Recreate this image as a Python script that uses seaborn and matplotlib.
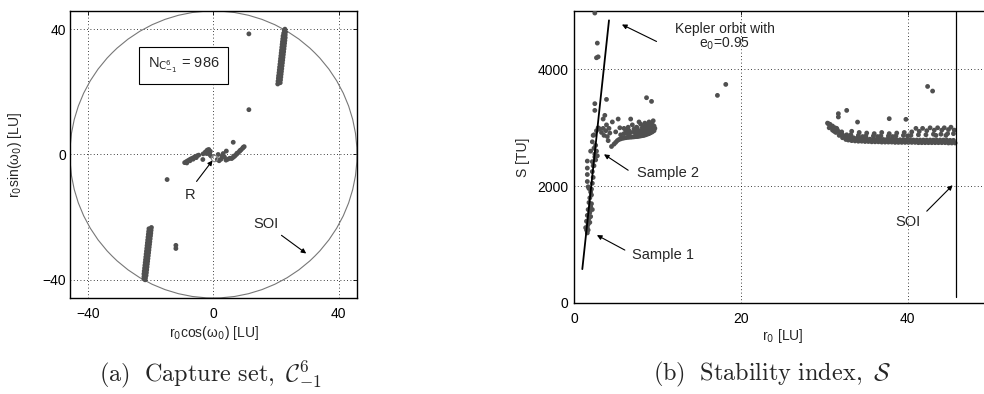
import seaborn as sns
import numpy as np
import pandas as pd
import matplotlib
matplotlib.use('Agg')
import matplotlib.pyplot as plt

# ---------------- data: capture set (left panel) ----------------
soi_radius = 45.8

# upper-right elongated cluster
capA_x = [20.5, 21.3, 20.6, 21.4, 20.7, 21.5, 20.8, 21.6, 20.9, 21.7, 21.0, 21.8, 21.1, 21.9,
          21.2, 22.0, 21.3, 22.1, 21.4, 22.2, 21.5, 22.3, 21.6, 22.4, 21.7, 22.5, 21.8, 22.6,
          21.9, 22.7, 22.0, 22.8, 22.1, 22.9, 22.2, 22.9, 22.4, 23.0, 22.6, 22.8,
          20.9, 21.3, 21.6, 21.9, 22.2, 22.5]
capA_y = [22.5, 22.9, 23.4, 23.8, 24.3, 24.7, 25.2, 25.6, 26.1, 26.5, 27.0, 27.4, 27.9, 28.3,
          28.8, 29.2, 29.7, 30.1, 30.6, 31.0, 31.5, 31.9, 32.4, 32.8, 33.3, 33.7, 34.2, 34.6,
          35.1, 35.5, 36.0, 36.4, 36.9, 37.3, 37.8, 38.2, 38.7, 39.1, 39.6, 40.0,
          25.0, 27.8, 30.4, 33.0, 35.6, 38.0]
# lower-left elongated cluster
capB_x = [-19.8, -20.6, -19.9, -20.7, -20.0, -20.8, -20.1, -20.9, -20.2, -21.0, -20.3, -21.1,
          -20.4, -21.2, -20.5, -21.3, -20.6, -21.4, -20.7, -21.5, -20.8, -21.6, -20.9, -21.7,
          -21.0, -21.8, -21.1, -21.9, -21.2, -22.0, -21.3, -22.1, -21.4, -22.2, -21.5, -22.2,
          -21.7, -22.2, -21.8, -22.0,
          -20.2, -20.6, -20.9, -21.2, -21.5, -21.8]
capB_y = [-23.3, -23.7, -24.2, -24.6, -25.1, -25.5, -26.0, -26.4, -26.9, -27.3, -27.8, -28.2,
          -28.7, -29.1, -29.6, -30.0, -30.5, -30.9, -31.4, -31.8, -32.3, -32.7, -33.2, -33.6,
          -34.1, -34.5, -35.0, -35.4, -35.9, -36.3, -36.8, -37.2, -37.7, -38.1, -38.6, -39.0,
          -39.4, -39.7, -40.0, -39.2,
          -25.5, -28.4, -31.0, -33.6, -36.2, -38.4]
# central cluster and isolated points
capC_x = [-9.2, -8.7, -8.2, -7.7, -7.2, -6.7, -6.2, -5.7, -5.2, -4.7, -8.5, -7.5, -6.5, -5.5,
          -3.3, -2.6, -2.0, -1.5, -1.0, -1.3, -0.8, -2.2, -3.4,
          1.2, 1.8, 2.4, 2.8, 3.1, 3.5, 4.0, 4.6, 5.2, -1.2, 1.5, 4.1,
          5.8, 6.3, 6.8, 7.3, 7.8, 8.3, 8.8, 9.3, 9.8, 6.5, 7.5, 8.5, 9.5,
          6.3, 11.3, 11.3, -14.8, -12.0, -12.0]
capC_y = [-2.6, -2.3, -2.0, -1.7, -1.4, -1.2, -0.9, -0.7, -0.4, -0.2, -2.7, -2.0, -1.5, -1.0,
          0.2, 0.8, 1.4, 1.6, 1.0, 0.3, -0.5, 0.3, -1.6,
          -1.6, -2.0, -1.5, -0.5, 0.3, -0.8, -1.8, -1.5, -1.2, 0.0, 0.0, 1.1,
          -1.3, -0.9, -0.5, 0.0, 0.5, 1.0, 1.5, 2.0, 2.5, -0.5, 0.4, 1.3, 2.3,
          3.9, 38.5, 14.3, -8.0, -29.0, -30.0]
R_point = (0.2, -1.2)

# ---------------- data: stability index (right panel) ----------------
kepler_r = [1.0, 4.2]
kepler_S = [580, 4840]

stabA_r = [2.5, 2.8, 2.7, 2.9, 2.5, 3.9, 2.5, 3.7, 8.7, 9.3, 17.2, 18.2,
           1.6, 1.6, 1.6, 1.6, 1.7, 1.8,
           2.3, 2.2, 2.4, 2.6, 2.5, 2.7, 2.4, 2.6, 2.2, 2.4, 2.7, 2.9, 3.1, 2.3, 2.5, 2.8, 2.2,
           1.5, 1.6, 1.7, 1.5, 1.8, 1.6, 1.9, 1.7, 2.0, 2.1, 1.8, 1.4, 1.9, 2.0, 2.2, 1.6, 1.7,
           1.9, 2.0, 2.1, 2.2, 2.1, 2.3, 2.0]
stabA_S = [4965, 4450, 4199, 4215, 3413, 3486, 3298, 3213, 3515, 3452, 3555, 3743,
           2430, 2310, 2200, 2080, 1990, 1960,
           2150, 2250, 2350, 2450, 2550, 2600, 2650, 2700, 2760, 2880, 2950, 3000, 2980, 2870,
           2500, 2520, 2420,
           1250, 1300, 1350, 1400, 1450, 1500, 1550, 1600, 1650, 1700, 1720, 1290, 1380, 1480,
           1600, 1200, 1250, 1800, 1900, 1950, 2050, 1850, 2350, 2600]
# shelf between r0 = 3 and 10
stabB_r = [3.3, 3.5, 3.6, 3.8, 4.0, 4.2, 4.1, 4.3, 3.9, 3.5,
           4.5, 4.8, 5.0, 5.2, 5.4, 5.6, 5.8, 6.0, 6.2, 6.4, 6.6, 6.8, 7.0, 7.2, 7.4, 7.6,
           7.8, 8.0, 8.2, 8.4, 8.6, 8.8, 9.0, 9.2, 9.4, 9.6, 9.7,
           5.6, 6.0, 6.4, 6.8, 7.2, 7.6, 8.0, 8.4, 8.8, 9.2, 9.6, 6.6, 7.4, 8.2, 9.0, 9.4,
           7.8, 8.6,
           5.0, 5.5, 6.0, 6.5, 7.0, 7.5, 8.0, 8.5, 9.0, 9.5, 6.2, 7.2, 8.2, 8.8, 9.3, 7.8,
           6.8, 5.3, 4.6, 8.4, 9.0, 7.4, 8.6, 9.4, 6.6, 7.6]
stabB_S = [2920, 2990, 2870, 2950, 2850, 2990, 2780, 2910, 3050, 3150,
           2680, 2720, 2750, 2780, 2800, 2810, 2820, 2825, 2830, 2835, 2838, 2840, 2842,
           2845, 2848, 2850, 2855, 2860, 2865, 2870, 2880, 2890, 2900, 2915, 2930, 2950, 2990,
           2880, 2900, 2910, 2920, 2930, 2940, 2950, 2960, 2980, 3000, 3030, 2870, 2890,
           2910, 2950, 2970, 2900, 2930,
           2930, 3000, 2990, 3010, 3050, 3010, 3060, 3080, 3100, 3120, 2960, 2980, 3000,
           3040, 3070, 3100, 3150, 3150, 3100, 3020, 3040, 2970, 3010, 3050, 2950, 2990]
# band between r0 = 30 and the SOI
stabC_r = [30.4, 30.7, 31.0, 31.3, 31.6, 31.9, 32.2, 32.5, 32.8, 30.6, 31.0, 31.4, 31.8,
           32.2, 32.6, 31.7, 31.7, 32.7, 34.0, 37.8, 39.8, 42.4, 43.0,
           30.9, 31.5, 32.1, 32.7, 30.5, 31.2,
           32.9, 33.3, 33.7, 34.1, 34.5, 34.9, 35.3, 35.7, 36.1, 36.5, 36.9, 37.3, 37.7,
           38.1, 38.5, 38.9, 39.3, 39.7, 40.1, 40.5, 40.9, 41.3, 41.7, 42.1, 42.5, 42.9,
           43.3, 43.7, 44.1, 44.5, 44.9, 45.3, 45.7,
           33.1, 33.5, 33.9, 34.3, 34.7, 35.1, 35.5, 35.9, 36.3, 36.7, 37.1, 37.5, 37.9,
           38.3, 38.7, 39.1, 39.5, 39.9, 40.3, 40.7, 41.1, 41.5, 41.9, 42.3, 42.7, 43.1,
           43.5, 43.9, 44.3, 44.7, 45.1, 45.5,
           33.2, 33.3, 34.1, 34.2, 35.0, 35.1, 35.9, 36.0, 36.8, 36.9, 37.7, 37.8, 38.6,
           38.7, 39.5, 39.6, 40.4, 40.5, 41.3, 41.4, 42.2, 42.3, 43.1, 43.2, 44.0, 44.1,
           44.8, 44.9, 45.5, 45.6, 41.8, 42.7, 43.6, 44.4, 45.2,
           34.6, 36.4, 38.2, 40.0, 41.0, 43.4, 44.6]
stabC_S = [3080, 3060, 3030, 3000, 2960, 2920, 2880, 2850, 2820, 3000, 2960, 2920, 2870,
           2830, 2800, 3242, 3185, 3298, 3098, 3156, 3145, 3708, 3629,
           3020, 2990, 2930, 2880, 3070, 2940,
           2790, 2780, 2775, 2770, 2770, 2765, 2765, 2760, 2760, 2760, 2755, 2755, 2755,
           2755, 2750, 2750, 2750, 2750, 2750, 2750, 2750, 2745, 2745, 2745, 2745, 2745,
           2745, 2745, 2745, 2745, 2740, 2740, 2740,
           2840, 2830, 2820, 2815, 2810, 2810, 2805, 2805, 2800, 2800, 2800, 2800, 2800,
           2795, 2795, 2795, 2795, 2795, 2795, 2790, 2790, 2790, 2790, 2790, 2790, 2790,
           2790, 2790, 2790, 2790, 2785, 2785,
           2880, 2940, 2870, 2920, 2860, 2910, 2860, 2900, 2860, 2920, 2860, 2900, 2860,
           2910, 2870, 2920, 2870, 2930, 2880, 2940, 2880, 2950, 2890, 2960, 2890, 2960,
           2900, 2970, 2900, 2960, 2990, 3000, 3000, 3000, 3010,
           2850, 2850, 2850, 2860, 2990, 2870, 2870]

# ---------------- figure ----------------
sns.set_style('white')
plt.rcParams['font.family'] = ['Liberation Sans', 'DejaVu Sans']
plt.rcParams['font.size'] = 10
dot = '#505050'
fs = 10

fig = plt.figure(figsize=(9.84, 3.94), dpi=100)
ax1 = fig.add_axes([0.0711, 0.2437, 0.2917, 0.7284])
ax2 = fig.add_axes([0.5833, 0.2310, 0.4238, 0.7411])

for ax in (ax1, ax2):
    ax.tick_params(direction='in', top=True, right=True, length=3, width=0.6,
                   labelsize=fs, colors='black')
    ax.tick_params(axis='x', pad=6.5)
    ax.grid(True, linestyle=(0, (1, 3)), color='black', linewidth=0.6)
    for sp in ax.spines.values():
        sp.set_color('black')
        sp.set_linewidth(1.0)
ax1.tick_params(axis='y', pad=3)
ax2.tick_params(axis='y', pad=4)

# left panel
sns.scatterplot(x=capA_x + capB_x + capC_x, y=capA_y + capB_y + capC_y, ax=ax1,
                s=12, color=dot, edgecolor='none', zorder=3)
ax1.plot([R_point[0]], [R_point[1]], marker='o', ms=4.5, mfc='none', mec='#888888', mew=0.9,
         zorder=4)
ax1.add_patch(plt.Circle((0, 0), soi_radius, fill=False, color='#777777', lw=0.8, zorder=2))
ax1.set_xlim(-soi_radius, soi_radius)
ax1.set_ylim(-soi_radius, soi_radius)
ax1.set_xticks([-40, 0, 40])
ax1.set_yticks([-40, 0, 40])
ax1.set_xticklabels(['\u221240', '0', '40'])
ax1.set_yticklabels(['\u221240', '0', '40'])
ax1.set_xlabel('r$_0$cos(\u03c9$_0$) [LU]', fontsize=fs, labelpad=2)
ax1.set_ylabel('r$_0$sin(\u03c9$_0$) [LU]', fontsize=fs, labelpad=13)
ax1.text(-9.6, 28.4, r'N$_{\mathrm{C}^{6}_{-1}}$ = 986', ha='center', va='center', fontsize=fs + 0.5,
         bbox=dict(boxstyle='square,pad=0.6', fc='white', ec='black', lw=0.8), zorder=5)
arr = dict(arrowstyle='-|>', color='black', lw=0.8, mutation_scale=7, shrinkA=0, shrinkB=0)
ax1.annotate('', xy=(-0.3, -1.9), xytext=(-5.4, -8.6), arrowprops=arr)
ax1.text(-7.6, -12.8, 'R', ha='center', va='center', fontsize=fs + 0.5)
ax1.annotate('', xy=(29.6, -31.6), xytext=(21.7, -25.8), arrowprops=arr)
ax1.text(16.9, -22.3, 'SOI', ha='center', va='center', fontsize=fs + 0.5)

# right panel
sns.scatterplot(x=stabA_r + stabB_r + stabC_r, y=stabA_S + stabB_S + stabC_S, ax=ax2,
                s=12, color=dot, edgecolor='none', zorder=3)
sns.lineplot(x=kepler_r, y=kepler_S, ax=ax2, color='black', lw=1.3, zorder=4)
ax2.plot([soi_radius, soi_radius], [100, 5000], color='black', lw=0.9, zorder=4)
ax2.set_xlim(0, 50)
ax2.set_ylim(0, 5000)
ax2.set_xticks([0, 20, 40])
ax2.set_yticks([0, 2000, 4000])
ax2.set_xlabel('r$_0$ [LU]', fontsize=fs, labelpad=1)
ax2.set_ylabel('S [TU]', fontsize=fs, labelpad=5)
ax2.annotate('', xy=(5.75, 4768), xytext=(9.9, 4478), arrowprops=arr)
ax2.text(18.1, 4560, 'Kepler orbit with\ne$_0$=0.95', ha='center', va='center', fontsize=fs,
         linespacing=0.95)
ax2.annotate('', xy=(3.6, 2546), xytext=(6.5, 2273), arrowprops=arr)
ax2.text(7.6, 2220, 'Sample 2', ha='left', va='center', fontsize=fs + 0.5)
ax2.annotate('', xy=(2.75, 1162), xytext=(6.1, 906), arrowprops=arr)
ax2.text(7.0, 820, 'Sample 1', ha='left', va='center', fontsize=fs + 0.5)
ax2.annotate('', xy=(45.4, 2017), xytext=(42.3, 1572), arrowprops=arr)
ax2.text(40.0, 1384, 'SOI', ha='center', va='center', fontsize=fs + 0.5)

# captions
fig.text(211 / 984, 1 - 374 / 394, r'$\mathrm{(a)\ \ Capture\ set,}\ \mathcal{C}^{6}_{-1}$',
         ha='center', va='center', fontsize=17.5, math_fontfamily='cm')
fig.text(772 / 984, 1 - 374 / 394, r'$\mathrm{(b)\ \ Stability\ index,}\ \mathcal{S}$',
         ha='center', va='center', fontsize=17.5, math_fontfamily='cm')

fig.savefig('out.png', dpi=100)
